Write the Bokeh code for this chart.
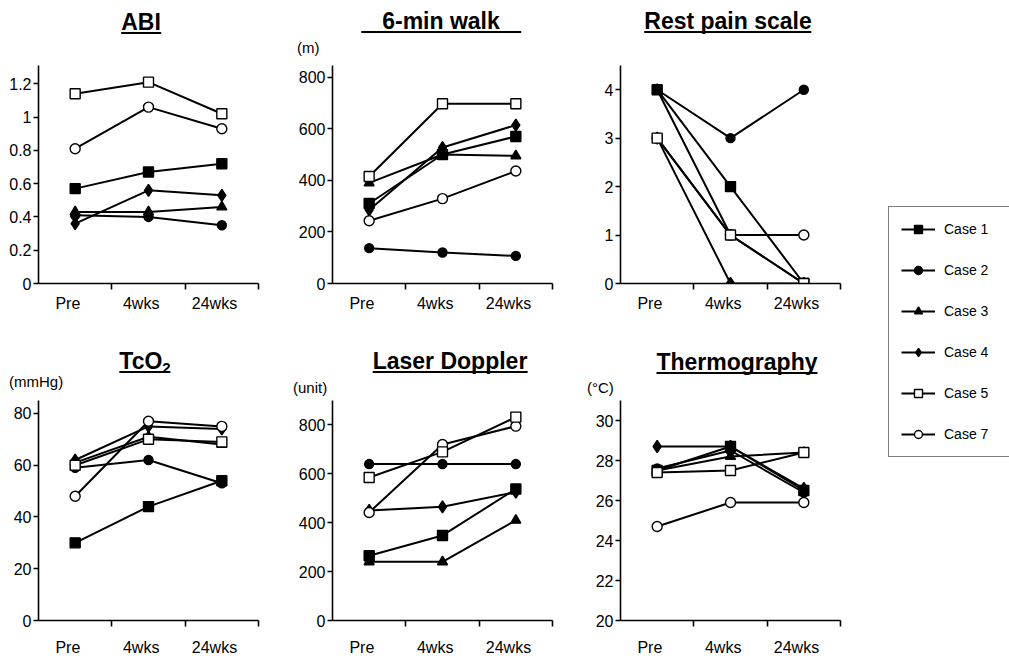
from bokeh.plotting import figure
from bokeh.models import FixedTicker, Range1d, Div, Spacer, Legend, LegendItem
from bokeh.layouts import row, column
from bokeh.embed import file_html
from bokeh.resources import INLINE

# ---------------- data ----------------
TIMEPOINTS = ["Pre", "4wks", "24wks"]
CASES = ["Case 1", "Case 2", "Case 3", "Case 4", "Case 5", "Case 7"]

ABI = {
    "Case 1": [0.57, 0.67, 0.72],
    "Case 2": [0.41, 0.40, 0.35],
    "Case 3": [0.43, 0.43, 0.46],
    "Case 4": [0.36, 0.56, 0.53],
    "Case 5": [1.14, 1.21, 1.02],
    "Case 7": [0.81, 1.06, 0.93],
}
WALK = {
    "Case 1": [310, 500, 570],
    "Case 2": [137, 120, 107],
    "Case 3": [390, 500, 495],
    "Case 4": [285, 527, 614],
    "Case 5": [415, 697, 697],
    "Case 7": [243, 329, 436],
}
PAIN = {
    "Case 1": [4, 2, 0],
    "Case 2": [4, 3, 4],
    "Case 3": [4, 1, 0],
    "Case 4": [3, 0, 0],
    "Case 5": [3, 1, 0],
    "Case 7": [3, 1, 1],
}
TCO2 = {
    "Case 1": [30, 44, 54],
    "Case 2": [59, 62, 53],
    "Case 3": [61, 71, 68],
    "Case 4": [62, 75, 74],
    "Case 5": [60, 70, 69],
    "Case 7": [48, 77, 75],
}
LASER = {
    "Case 1": [265, 348, 538],
    "Case 2": [640, 640, 640],
    "Case 3": [240, 240, 410],
    "Case 4": [450, 465, 525],
    "Case 5": [585, 690, 832],
    "Case 7": [442, 720, 795],
}
THERMO = {
    "Case 1": [27.5, 28.7, 26.5],
    "Case 2": [27.6, 28.5, 26.4],
    "Case 3": [27.5, 28.2, 28.4],
    "Case 4": [28.7, 28.7, 26.6],
    "Case 5": [27.4, 27.5, 28.4],
    "Case 7": [24.7, 25.9, 25.9],
}

ABI_TICKS = [0, 0.2, 0.4, 0.6, 0.8, 1.0, 1.2]
WALK_TICKS = [0, 200, 400, 600, 800]
PAIN_TICKS = [0, 1, 2, 3, 4]
TCO2_TICKS = [0, 20, 40, 60, 80]
LASER_TICKS = [0, 200, 400, 600, 800]
THERMO_TICKS = [20, 22, 24, 26, 28, 30]

# ---------------- styles ----------------
FONT = "Liberation Sans"
MARKER = {
    "Case 1": ("square", "black", 10),
    "Case 2": ("circle", "black", 9),
    "Case 3": ("triangle", "black", 10),
    "Case 4": ("diamond", "black", 12),
    "Case 5": ("square", "white", 10),
    "Case 7": ("circle", "white", 10),
}
MARKER_ORDER = ["Case 1", "Case 2", "Case 3", "Case 4", "Case 7", "Case 5"]
X = [i + 0.5 for i in range(len(TIMEPOINTS))]
LABEL_SHIFT = -0.1
LABEL_POS = [x + LABEL_SHIFT for x in X]
BOUNDS = [i + 1 for i in range(len(TIMEPOINTS))]


def make_fig(data, ticks, ymin, ymax, mb_left, mb_right, mb_top, mb_bottom, frame_h, standoff):
    p = figure(frame_width=220, frame_height=frame_h,
               x_range=Range1d(0, len(TIMEPOINTS)), y_range=Range1d(ymin, ymax),
               output_backend="svg", toolbar_location=None,
               min_border_left=mb_left, min_border_right=mb_right,
               min_border_top=mb_top, min_border_bottom=mb_bottom)
    p.outline_line_color = None
    p.grid.visible = False
    p.border_fill_color = None
    p.background_fill_color = None

    p.xaxis.ticker = FixedTicker(ticks=LABEL_POS, minor_ticks=BOUNDS)
    p.xaxis.major_label_overrides = {pos: lab for pos, lab in zip(LABEL_POS, TIMEPOINTS)}
    p.xaxis.major_tick_out = 0
    p.xaxis.major_tick_in = 0
    p.xaxis.minor_tick_out = 6
    p.xaxis.minor_tick_in = 0
    p.xaxis.major_label_standoff = standoff
    p.xaxis.major_label_text_font_size = "16px"

    p.yaxis.ticker = FixedTicker(ticks=ticks)
    p.yaxis.major_label_overrides = {t: f"{t:g}" for t in ticks}
    p.yaxis.major_tick_out = 5
    p.yaxis.major_tick_in = 0
    p.yaxis.minor_tick_out = 0
    p.yaxis.minor_tick_in = 0
    p.yaxis.major_label_standoff = 2
    p.yaxis.major_label_text_font_size = "16px"

    for ax in (p.xaxis[0], p.yaxis[0]):
        ax.axis_line_width = 1.6
        ax.axis_line_color = "black"
        ax.major_tick_line_width = 1.6
        ax.minor_tick_line_width = 1.6
        ax.major_tick_line_color = "black"
        ax.minor_tick_line_color = "black"
        ax.major_label_text_font = FONT
        ax.major_label_text_color = "black"

    for c in CASES:
        p.line(X, data[c], line_color="black", line_width=2)
    for c in MARKER_ORDER:
        m, fill, size = MARKER[c]
        p.scatter(X, data[c], marker=m, size=size, fill_color=fill,
                  line_color="black", line_width=1.4)
    return p


def header(width, height, title_html, cx, top, pad=0, unit=None, ux=0, uy=0):
    html = (f'<div style="position:relative;width:{width}px;height:{height}px;'
            f"font-family:'{FONT}',Arial,sans-serif;color:#000;\">"
            f'<span style="position:absolute;left:{cx}px;top:{top}px;'
            f'transform:translateX(-50%);white-space:nowrap;font-size:23px;'
            f'font-weight:bold;line-height:19px;border-bottom:2px solid #000;'
            f'padding:0 {pad}px;">{title_html}</span>')
    if unit:
        html += (f'<span style="position:absolute;left:{ux}px;top:{uy}px;'
                 f'white-space:nowrap;font-size:15px;line-height:15px;">{unit}</span>')
    html += '</div>'
    return Div(text=html, width=width, height=height, margin=0)


W1, W2, W3 = 292, 288, 307
TOP_HDR_H, BOT_HDR_H = 61, 53
TOP_FH, BOT_FH = 218, 220

f_abi = make_fig(ABI, ABI_TICKS, 0, 1.31, 38, 34, 4, 60, TOP_FH, 5)
f_walk = make_fig(WALK, WALK_TICKS, 0, 845, 40, 28, 4, 60, TOP_FH, 5)
f_pain = make_fig(PAIN, PAIN_TICKS, 0, 4.5, 40, 47, 4, 60, TOP_FH, 5)
f_tco2 = make_fig(TCO2, TCO2_TICKS, 0, 85, 38, 34, 4, 39, BOT_FH, 12)
f_laser = make_fig(LASER, LASER_TICKS, 0, 900, 40, 28, 4, 39, BOT_FH, 12)
f_thermo = make_fig(THERMO, THERMO_TICKS, 20, 31, 40, 47, 4, 39, BOT_FH, 12)

h_abi = header(W1, TOP_HDR_H, "ABI", 141, 13)
h_walk = header(W2, TOP_HDR_H, "6-min walk", 149, 12, pad=21, unit="(m)", ux=5, uy=40)
h_pain = header(W3, TOP_HDR_H, "Rest pain scale", 148, 12)
h_tco2 = header(W1, BOT_HDR_H, 'TcO<sub style="font-size:15px;line-height:0;vertical-align:-4px;">2</sub>',
                145, 9, unit="(mmHg)", ux=9, uy=31)
h_laser = header(W2, BOT_HDR_H, "Laser Doppler", 158, 9, unit="(unit)", ux=1, uy=37)
h_thermo = header(W3, BOT_HDR_H, "Thermography", 157, 10, unit="(°C)", ux=7, uy=37)

# ---------------- legend ----------------
LEG_W, LEG_H = 122, 262
lf = figure(width=LEG_W, height=LEG_H, output_backend="svg", toolbar_location=None,
            min_border=0, x_axis_location=None, y_axis_location=None,
            x_range=Range1d(0, len(TIMEPOINTS)), y_range=Range1d(0, 4.5))
lf.grid.visible = False
lf.outline_line_color = None
lf.border_fill_color = None
items = []
for c in CASES:
    m, fill, size = MARKER[c]
    # legend-only renderers (hidden): they carry the case series but are not drawn
    lr = lf.line(X, PAIN[c], line_color="black", line_width=2, visible=False)
    sr = lf.scatter(X, PAIN[c], marker=m, size=size, fill_color=fill,
                    line_color="black", line_width=1.4, visible=False)
    items.append(LegendItem(label=c, renderers=[lr, sr]))
legend = Legend(items=items, location="top_left", margin=1, padding=12, spacing=21,
                glyph_width=34, glyph_height=20, label_height=20, label_width=80,
                label_standoff=9,
                label_text_font=FONT, label_text_font_size="14px", label_text_color="black",
                border_line_color="black", border_line_width=1.2,
                background_fill_color="white", background_fill_alpha=1,
                inactive_fill_alpha=0)
lf.add_layout(legend)

top_row = row(column(h_abi, f_abi), column(h_walk, f_walk), column(h_pain, f_pain))
bot_row = row(column(h_tco2, f_tco2), column(h_laser, f_laser), column(h_thermo, f_thermo))
layout = row(column(top_row, bot_row), column(Spacer(width=LEG_W, height=205), lf))

open("out.html", "w").write(file_html(layout, INLINE))
